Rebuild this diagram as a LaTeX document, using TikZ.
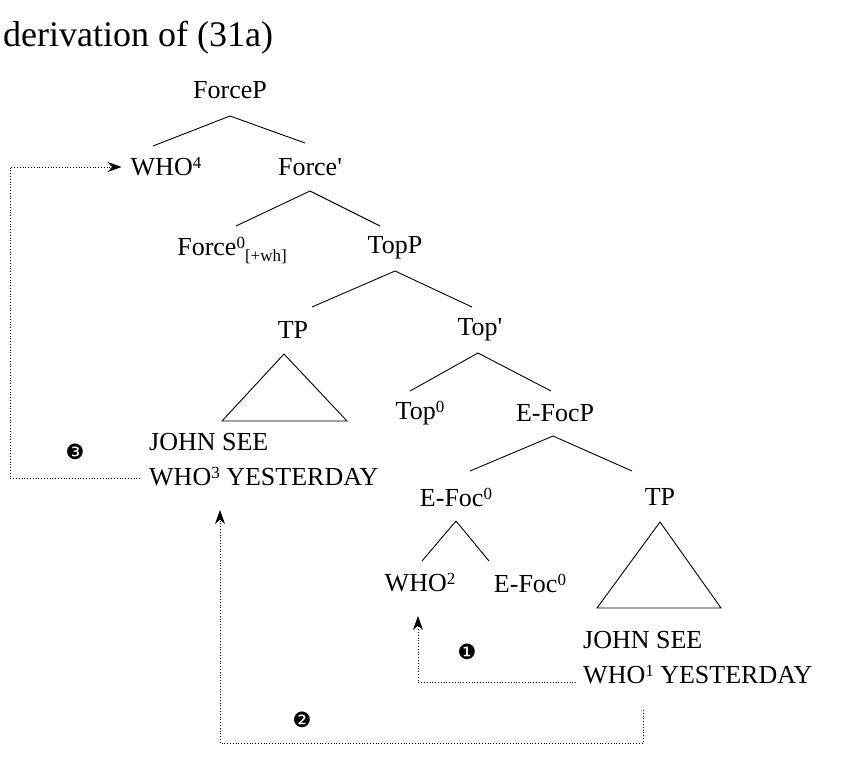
\documentclass[tikz,border=0pt]{standalone}
\usepackage{fontspec}
\setmainfont{Liberation Serif}
\newfontfamily\dejavu{DejaVu Sans}
\usetikzlibrary{arrows.meta}
\newcommand{\mysup}[1]{\raisebox{7pt}{\fontsize{17}{17}\selectfont #1}}
\begin{document}
\begin{tikzpicture}[x=1pt,y=-1pt,
  lab/.style={font=\fontsize{26}{35}\selectfont,inner sep=1pt},
  br/.style={line width=0.9pt},
  path/.style={dotted,line width=0.8pt},
  arr/.style={path,-{Stealth[length=14pt,width=10pt]}},
  num/.style={font=\dejavu\fontsize{21}{21}\selectfont,inner sep=0pt}]
\useasboundingbox (0,0) rectangle (851,758);
\node[anchor=west,font=\fontsize{36}{40}\selectfont,inner sep=0pt] (title) at (3,38) {derivation of (31a)};
\node[lab] (forcep) at (230,90) {ForceP};
\node[lab] (who4) at (166,167) {WHO\mysup{4}};
\node[lab] (forcebar) at (310,167) {Force\textquotesingle};
\node[lab] (force0) at (232,250) {Force\mysup{0}\raisebox{-6pt}{\fontsize{17}{17}\selectfont[+wh]}};
\node[lab] (topp) at (395,248) {TopP};
\node[lab] (tp1) at (293,330) {TP};
\node[lab] (topbar) at (480,330) {Top\textquotesingle};
\node[lab] (top0) at (420,413) {Top\mysup{0}};
\node[lab] (efocp) at (555,413) {E-FocP};
\node[lab,anchor=west,align=left] (tp1txt) at (148,460) {JOHN SEE\\WHO\mysup{3} YESTERDAY};
\node[lab] (efoc0) at (456,497) {E-Foc\mysup{0}};
\node[lab] (tp2) at (660,497) {TP};
\node[lab] (who2) at (420,583) {WHO\mysup{2}};
\node[lab] (efoc0b) at (530,583) {E-Foc\mysup{0}};
\node[lab,anchor=west,align=left] (tp2txt) at (582,658) {JOHN SEE\\WHO\mysup{1} YESTERDAY};
\node[num] (n3) at (75,452) {❸};
\node[num] (n1) at (467,652) {❶};
\node[num] (n2) at (302,720) {❷};
% branches
\draw[br] (230,116) -- (153,146);
\draw[br] (230,116) -- (305,143);
\draw[br] (310,191) -- (236,226);
\draw[br] (310,191) -- (380,226);
\draw[br] (395,271) -- (312,307);
\draw[br] (395,271) -- (472,307);
\draw[br] (478,353) -- (410,391);
\draw[br] (478,353) -- (551,391);
\draw[br] (553,436) -- (470,471);
\draw[br] (553,436) -- (632,471);
\draw[br] (456,521) -- (422,561);
\draw[br] (456,521) -- (489,561);
% triangles
\draw[br] (284,354) -- (222,421) -- (347,421) -- cycle;
\draw[br] (660,522) -- (597,608) -- (721,608) -- cycle;
% movement paths
\coordinate (a3) at (140,478);
\draw[arr] (a3) -- (10,478) -- (10,167) -- ([xshift=-8pt]who4.west);
\coordinate (a1) at (576,682);
\draw[arr] (a1) -- (418,682) -- (418,616);
\coordinate (a2) at (643,710);
\draw[arr] (a2) -- (643,743) -- (220,743) -- (220,510);
\end{tikzpicture}
\end{document}
